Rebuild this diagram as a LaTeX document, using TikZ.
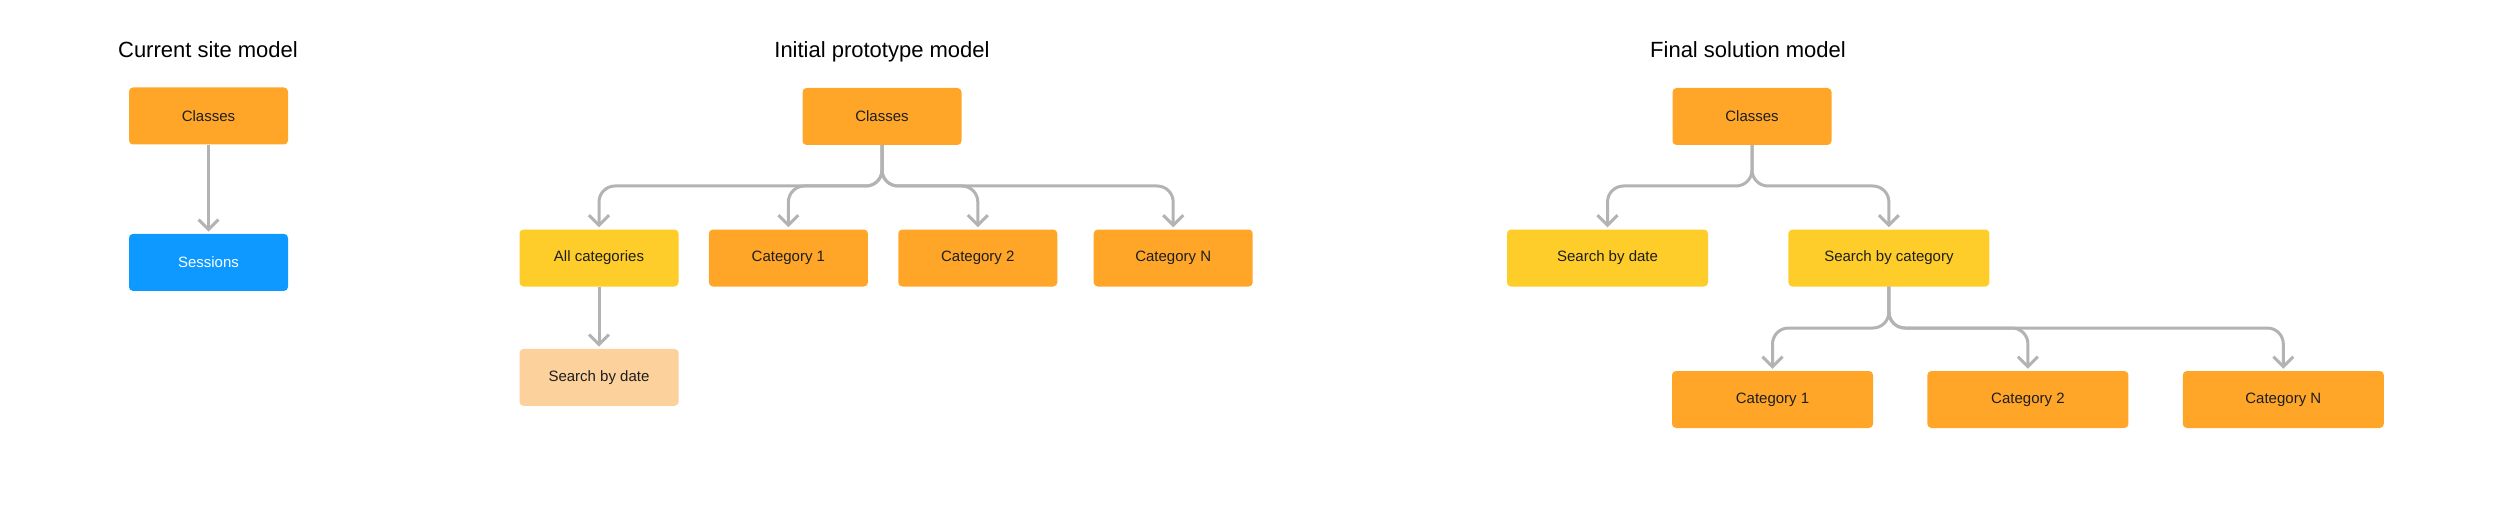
\documentclass[tikz,border=0pt]{standalone}
\usepackage{fontspec}
\setmainfont{Liberation Sans}
\usepackage{tikz}
\usetikzlibrary{positioning,arrows.meta}
\definecolor{boxorange}{HTML}{FFA629}
\definecolor{boxyellow}{HTML}{FFCD29}
\definecolor{boxpeach}{HTML}{FCD19C}
\definecolor{boxblue}{HTML}{0D99FF}
\definecolor{linkgray}{HTML}{B3B3B3}
\definecolor{textdark}{HTML}{1E1E1E}
\tikzstyle{box} = [rectangle, rounded corners=4pt, minimum width=159pt, minimum height=57pt, inner sep=0pt, text=textdark, font=\fontsize{15}{18}\selectfont]
\tikzstyle{widebox} = [box, minimum width=201pt]
\tikzstyle{title} = [anchor=base, text=black, font=\fontsize{22}{26}\selectfont]
\tikzstyle{link} = [draw=linkgray, line width=3pt, rounded corners=16pt, shorten >=2pt, -{Straight Barb[length=10pt,width=20pt]}]

\begin{document}
\begin{tikzpicture}[x=1pt, y=-1pt, node distance=84pt]
	\useasboundingbox (0,0) rectangle (2499,505);
	% current site model
	\node (t1) [title] at (208,58) {Current site model};
	\node (c1) [box, fill=boxorange] at (208.5,116) {Classes};
	\node (s1) [box, fill=boxblue, text=white, below=89pt of c1] {Sessions};
	\draw[link] (c1) -- (s1);

	% initial prototype model
	\node (t2) [title] at (882,58) {Initial prototype model};
	\node (c2) [box, fill=boxorange] at (882,116.5) {Classes};
	\node (all2) [box, fill=boxyellow] at (599,258) {All categories};
	\node (cat21) [box, fill=boxorange, right=30pt of all2] {Category 1};
	\node (cat22) [box, fill=boxorange, right=30pt of cat21] {Category 2};
	\node (cat2n) [box, fill=boxorange, right=36pt of cat22] {Category N};
	\node (date2) [box, fill=boxpeach, below=62pt of all2] {Search by date};
	\coordinate (b2) at (0,186);
	\draw[link] (c2.south) -- (c2.south |- b2) -| (all2.north);
	\draw[link] (c2.south) -- (c2.south |- b2) -| (cat21.north);
	\draw[link] (c2.south) -- (c2.south |- b2) -| (cat22.north);
	\draw[link] (c2.south) -- (c2.south |- b2) -| (cat2n.north);
	\draw[link] (all2) -- (date2);

	% final solution model
	\node (t3) [title] at (1748,58) {Final solution model};
	\node (c3) [box, fill=boxorange] at (1752,116.5) {Classes};
	\node (date3) [widebox, fill=boxyellow] at (1607.5,258) {Search by date};
	\node (bycat3) [widebox, fill=boxyellow, right=80pt of date3] {Search by category};
	\node (cat31) [widebox, fill=boxorange] at (1772.5,399.5) {Category 1};
	\node (cat32) [widebox, fill=boxorange, right=54pt of cat31] {Category 2};
	\node (cat3n) [widebox, fill=boxorange, right=54pt of cat32] {Category N};
	\coordinate (b3) at (0,186);
	\coordinate (b4) at (0,328);
	\draw[link] (c3.south) -- (c3.south |- b3) -| (date3.north);
	\draw[link] (c3.south) -- (c3.south |- b3) -| (bycat3.north);
	\draw[link] (bycat3.south) -- (bycat3.south |- b4) -| (cat31.north);
	\draw[link] (bycat3.south) -- (bycat3.south |- b4) -| (cat32.north);
	\draw[link] (bycat3.south) -- (bycat3.south |- b4) -| (cat3n.north);
\end{tikzpicture}
\end{document}
